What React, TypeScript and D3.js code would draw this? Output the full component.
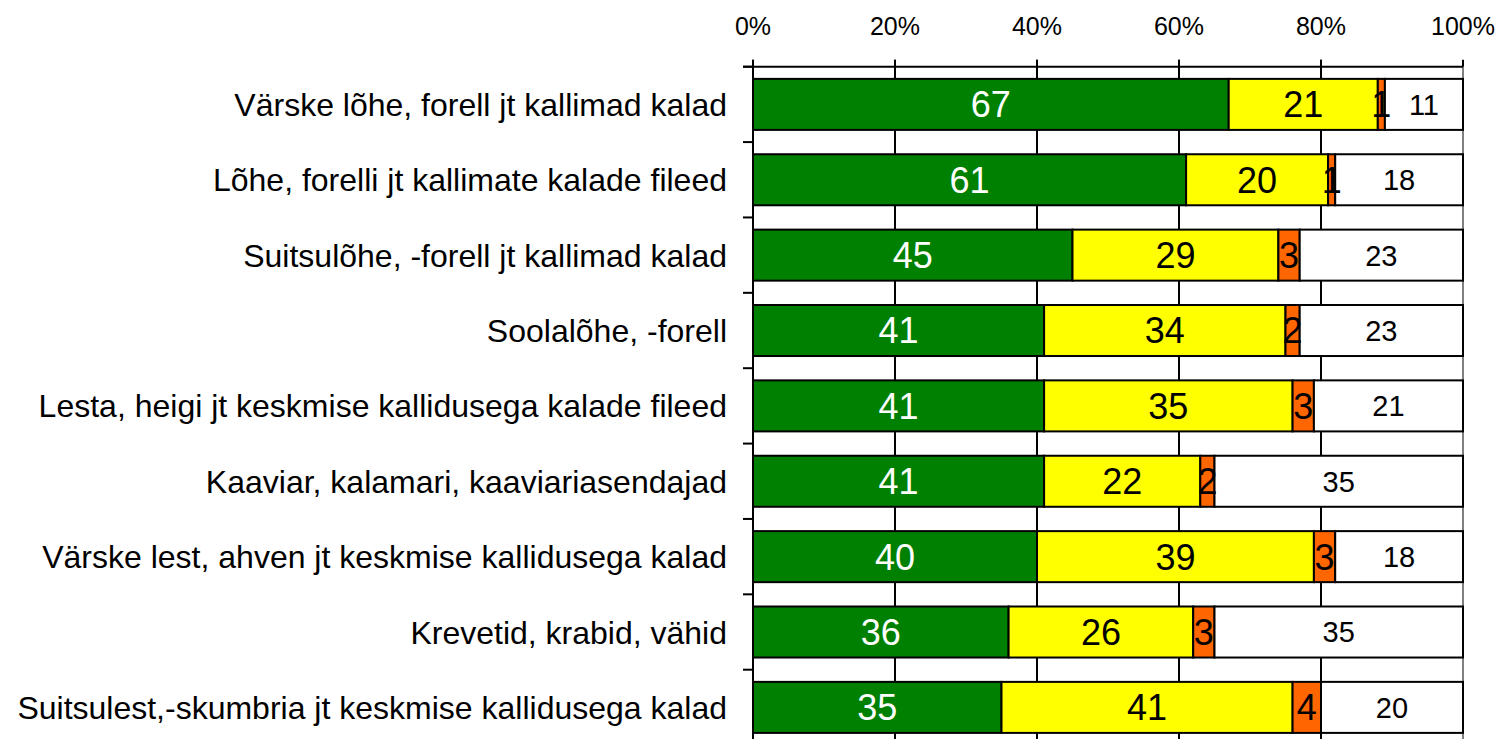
import React from "react";
import * as d3 from "d3";

const categories = [
  "Värske lõhe, forell jt kallimad kalad",
  "Lõhe, forelli jt kallimate kalade fileed",
  "Suitsulõhe, -forell jt kallimad kalad",
  "Soolalõhe, -forell",
  "Lesta, heigi jt keskmise kallidusega kalade fileed",
  "Kaaviar, kalamari, kaaviariasendajad",
  "Värske lest, ahven jt keskmise kallidusega kalad",
  "Krevetid, krabid, vähid",
  "Suitsulest,-skumbria jt keskmise kallidusega kalad",
];
const seriesA = [67, 61, 45, 41, 41, 41, 40, 36, 35];
const seriesB = [21, 20, 29, 34, 35, 22, 39, 26, 41];
const seriesC = [1, 1, 3, 2, 3, 2, 3, 3, 4];
const seriesD = [11, 18, 23, 23, 21, 35, 18, 35, 20];
const xTicks = [0, 20, 40, 60, 80, 100];

const colors = ["#008000", "#FFFF00", "#FF6600", "#FFFFFF"];
const labelColors = ["#FFFFFF", "#000000", "#000000", "#000000"];
const labelSizes = [36, 36, 36, 29];

export default function App() {
  const W = 1498, H = 739;
  const x0 = 753, x1 = 1463, yTop = 66.7, step = 75.375;
  const x = d3.scaleLinear().domain([0, 100]).range([x0, x1]);
  const y = d3
    .scaleBand<string>()
    .domain(categories)
    .range([yTop, yTop + step * categories.length])
    .paddingInner(0.323)
    .paddingOuter(0.1615);
  const series = [seriesA, seriesB, seriesC, seriesD];
  const font = "'Liberation Sans', Arial, sans-serif";
  const bottom = yTop + step * categories.length;

  return (
    <svg width={W} height={H} style={{ position: "absolute", left: 0, top: 0, background: "#fff" }} fontFamily={font}>
      {xTicks.slice(1, -1).map((t) => (
        <line key={"g" + t} x1={x(t)} x2={x(t)} y1={yTop - 7} y2={bottom} stroke="#000" strokeWidth={2} />
      ))}
      <line x1={x(100)} x2={x(100)} y1={yTop} y2={bottom} stroke="#808080" strokeWidth={2} />
      {categories.map((c, i) => {
        let acc = 0;
        return (
          <g key={c}>
            {series.map((s, k) => {
              const v = s[i];
              const xa = x(acc);
              acc += v;
              const xb = x(acc);
              return (
                <rect key={k} x={xa} y={y(c)!} width={xb - xa} height={y.bandwidth()} fill={colors[k]} stroke="#000" strokeWidth={2} />
              );
            })}
          </g>
        );
      })}
      {categories.map((c, i) => {
        let acc = 0;
        return (
          <g key={"l" + c}>
            {series.map((s, k) => {
              const v = s[i];
              const xa = x(acc);
              acc += v;
              const xb = x(acc);
              const yy = y(c)! + y.bandwidth() / 2;
              return (
                <text key={k} x={(xa + xb) / 2} y={yy} dy="0.36em" textAnchor="middle" fontSize={labelSizes[k]} fill={labelColors[k]}>
                  {v}
                </text>
              );
            })}
          </g>
        );
      })}
      <line x1={x0 - 10} x2={x1} y1={yTop} y2={yTop} stroke="#000" strokeWidth={2} />
      <line x1={x0} x2={x0} y1={yTop - 7} y2={bottom} stroke="#000" strokeWidth={2} />
      {xTicks.map((t) => (
        <g key={"t" + t}>
          <line x1={x(t)} x2={x(t)} y1={yTop - 7} y2={yTop} stroke="#000" strokeWidth={2} />
          <text x={x(t)} y={25.5} dy="0.36em" textAnchor="middle" fontSize={25} fill="#000">
            {t}%
          </text>
        </g>
      ))}
      {categories.map((c, i) => (
        <line key={"yt" + i} x1={x0 - 10} x2={x0} y1={yTop + step * i} y2={yTop + step * i} stroke="#000" strokeWidth={2} />
      ))}
      {categories.map((c) => (
        <text key={"c" + c} x={727} y={y(c)! + y.bandwidth() / 2} dy="0.36em" textAnchor="end" fontSize={32} fill="#000">
          {c}
        </text>
      ))}
    </svg>
  );
}
